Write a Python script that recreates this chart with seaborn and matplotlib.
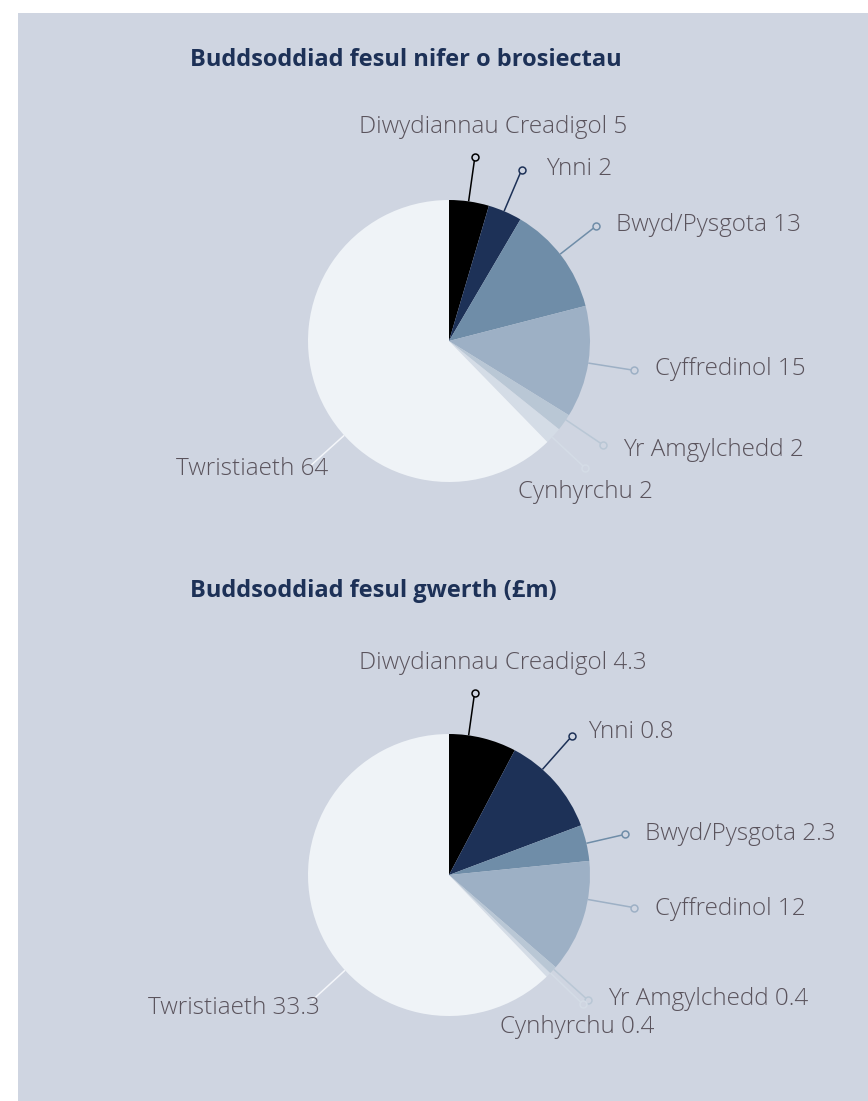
import numpy as np
import matplotlib
matplotlib.use("Agg")
import matplotlib.pyplot as plt
from matplotlib.patches import Rectangle
import seaborn as sns

sns.set_theme(style="white")
plt.rcParams['font.family'] = ['Open Sans', 'DejaVu Sans']

# data
sectors = ['Diwydiannau Creadigol', 'Ynni', 'Bwyd/Pysgota', 'Cyffredinol',
           'Yr Amgylchedd', 'Cynhyrchu', 'Twristiaeth']
count_labels = ['5', '2', '13', '15', '2', '2', '64']
value_labels = ['4.3', '0.8', '2.3', '12', '0.4', '0.4', '33.3']
# slice sizes
count_slices = [4.7, 4.0, 12.9, 13.2, 2.0, 2.0, 64.1]
value_slices = [4.13, 6.18, 2.21, 6.92, 0.49, 0.30, 33.26]

titles = ['Buddsoddiad fesul nifer o brosiectau', 'Buddsoddiad fesul gwerth (£m)']

colors = ['#000000', '#1d3157', '#6f8da8', '#9db0c5', '#b9c7d5', '#d4dce6', '#eff3f7']
line_colors = colors[:6] + ['#f4f6fa']
bg = '#cfd5e1'
text_col = '#5a535c'
title_col = '#1d3157'

W, H = 868, 1101
fig = plt.figure(figsize=(W / 100, H / 100), dpi=100)
fig.patch.set_facecolor('white')
ax = fig.add_axes([0, 0, 1, 1])
ax.set_xlim(0, W)
ax.set_ylim(0, H)
ax.set_aspect('equal')
ax.axis('off')

ax.add_patch(Rectangle((18, 0), W - 18, H - 13, facecolor=bg, edgecolor='none', zorder=0))

R = 141
# label angles (clockwise from top) and marker radius
label_angles = [[8, 23, 52, 99, 124, 133, 228],
                [8, 41.5, 77, 100, 132, 134, 227.5]]
label_radius = [[186, 186, 186, 187, 186, 186, 186],
                [184, 185, 181, 188, 187, 186, 186]]
# (ha, dx, dy) in pixels, dy downward
text_off = [[('left', -116, -30), ('left', 24, -1), ('left', 20, -1), ('left', 21, -1),
             ('left', 20, 5), ('center', 0, 24), ('right', 17, 4)],
            [('left', -116, -30), ('left', 16, -4), ('left', 20, 0), ('left', 21, 1),
             ('left', 20, -1), ('center', -6, 23), ('right', 8, 7)]]

pies = [(count_slices, count_labels, 341, 60), (value_slices, value_labels, 875, 591)]

for k, (slices, labs, cy_pix, ty_pix) in enumerate(pies):
    cx, cy = 449, H - cy_pix
    ax.pie(slices, colors=colors, startangle=90, counterclock=False,
           center=(cx, cy), radius=R, wedgeprops=dict(linewidth=0))
    ax.text(190, H - ty_pix, titles[k], fontsize=17, fontweight='bold',
            color=title_col, va='center', ha='left')
    for i, name in enumerate(sectors):
        a = np.deg2rad(label_angles[k][i])
        RL = label_radius[k][i]
        x0, y0 = cx + R * np.sin(a), cy + R * np.cos(a)
        x1, y1 = cx + RL * np.sin(a), cy + RL * np.cos(a)
        ax.plot([x0, x1], [y0, y1], color=line_colors[i], lw=1.1, zorder=3,
                solid_capstyle='butt')
        ha, dx, dy = text_off[k][i]
        ax.text(x1 + dx, y1 - dy, f'{name} {labs[i]}', fontsize=17.5,
                fontweight='light', color=text_col, ha=ha, va='center', zorder=5)
        if i < 6:
            ax.plot(x1, y1, 'o', ms=5, mfc=bg, mec=line_colors[i], mew=1.1, zorder=4)

ax.set_xlim(0, W)
ax.set_ylim(0, H)
fig.savefig('out.png', dpi=100, facecolor='white')
